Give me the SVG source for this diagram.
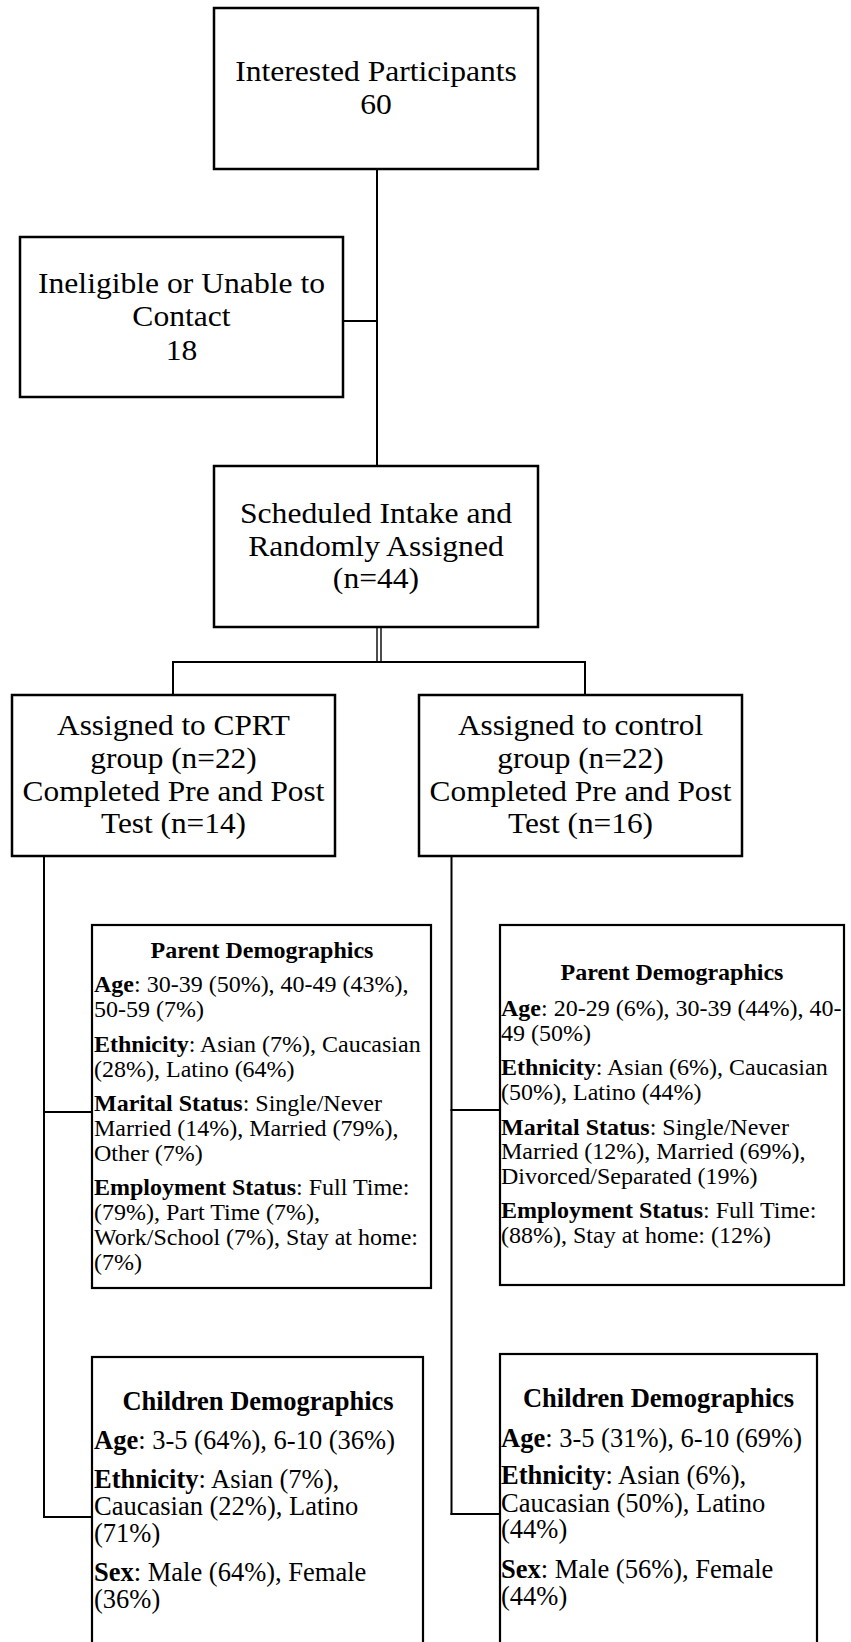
<svg xmlns="http://www.w3.org/2000/svg" width="851" height="1642" viewBox="0 0 851 1642">
<style>
  .box { fill: #fff; stroke: #000; stroke-width: 2.5; }
  .dbox { fill: #fff; stroke: #000; stroke-width: 2.2; }
  .conn { fill: none; stroke: #000; stroke-width: 2; }
  .thin { fill: none; stroke: #000; stroke-width: 1.4; }
  .big { font-family: "Liberation Serif", "Times New Roman", serif; font-size: 29px; text-anchor: middle; fill: #000; }
  .dem { font-family: "Liberation Serif", "Times New Roman", serif; font-size: 24px; fill: #000; }
  .chd { font-family: "Liberation Serif", "Times New Roman", serif; font-size: 26.5px; fill: #000; }
  .hd { font-weight: bold; text-anchor: middle; }
  .b { font-weight: bold; }
</style>
<rect width="851" height="1642" fill="#fff"/>
<g id="connectors">
  <line class="conn" x1="377" y1="169" x2="377" y2="466"/>
  <line class="conn" x1="343" y1="321" x2="377" y2="321"/>
  <line class="thin" x1="377" y1="627" x2="377" y2="662"/>
  <line class="thin" x1="381" y1="627" x2="381" y2="662"/>
  <polyline class="conn" points="173,695 173,662 585,662 585,695"/>
  <line class="conn" x1="44" y1="856" x2="44" y2="1518"/>
  <line class="conn" x1="43" y1="1112" x2="92" y2="1112"/>
  <line class="conn" x1="43" y1="1517" x2="92" y2="1517"/>
  <line class="conn" x1="451.5" y1="856" x2="451.5" y2="1515"/>
  <line class="conn" x1="450.5" y1="1110" x2="500" y2="1110"/>
  <line class="conn" x1="450.5" y1="1514" x2="500" y2="1514"/>
</g>
<g id="interested">
  <rect class="box" x="214" y="8" width="324" height="161"/>
  <g transform="translate(376 0) scale(1.09 1)">
    <text class="big" x="0" y="81.5">Interested Participants</text>
    <text class="big" x="0" y="114">60</text>
  </g>
</g>
<g id="ineligible">
  <rect class="box" x="20" y="237" width="323" height="160"/>
  <g transform="translate(181.5 0) scale(1.09 1)">
    <text class="big" x="0" y="293.3">Ineligible or Unable to</text>
    <text class="big" x="0" y="326.5">Contact</text>
    <text class="big" x="0" y="360">18</text>
  </g>
</g>
<g id="scheduled">
  <rect class="box" x="214" y="466" width="324" height="161"/>
  <g transform="translate(376 0) scale(1.09 1)">
    <text class="big" x="0" y="523">Scheduled Intake and</text>
    <text class="big" x="0" y="555.7">Randomly Assigned</text>
    <text class="big" x="0" y="588.3">(n=44)</text>
  </g>
</g>
<g id="cprt">
  <rect class="box" x="12" y="695" width="323" height="161"/>
  <g transform="translate(173.5 0) scale(1.08 1)">
    <text class="big" x="0" y="735.5">Assigned to CPRT</text>
    <text class="big" x="0" y="768">group (n=22)</text>
    <text class="big" x="0" y="801">Completed Pre and Post</text>
    <text class="big" x="0" y="833.3">Test (n=14)</text>
  </g>
</g>
<g id="control">
  <rect class="box" x="419" y="695" width="323" height="161"/>
  <g transform="translate(580.5 0) scale(1.08 1)">
    <text class="big" x="0" y="735.5">Assigned to control</text>
    <text class="big" x="0" y="768">group (n=22)</text>
    <text class="big" x="0" y="801">Completed Pre and Post</text>
    <text class="big" x="0" y="833.3">Test (n=16)</text>
  </g>
</g>
<g id="cprt-parent">
  <rect class="dbox" x="92" y="925" width="339" height="363"/>
  <text class="dem hd" x="262" y="958">Parent Demographics</text>
  <text class="dem" x="94" y="991.5"><tspan class="b">Age</tspan>: 30-39 (50%), 40-49 (43%),</text>
  <text class="dem" x="94" y="1016.5">50-59 (7%)</text>
  <text class="dem" x="94" y="1051.5"><tspan class="b">Ethnicity</tspan>: Asian (7%), Caucasian</text>
  <text class="dem" x="94" y="1076.5">(28%), Latino (64%)</text>
  <text class="dem" x="94" y="1110.5"><tspan class="b">Marital Status</tspan>: Single/Never</text>
  <text class="dem" x="94" y="1135.5">Married (14%), Married (79%),</text>
  <text class="dem" x="94" y="1160.5">Other (7%)</text>
  <text class="dem" x="94" y="1195"><tspan class="b">Employment Status</tspan>: Full Time:</text>
  <text class="dem" x="94" y="1220">(79%), Part Time (7%),</text>
  <text class="dem" x="94" y="1245">Work/School (7%), Stay at home:</text>
  <text class="dem" x="94" y="1270">(7%)</text>
</g>
<g id="control-parent">
  <rect class="dbox" x="500" y="925" width="344" height="360"/>
  <text class="dem hd" x="672" y="980">Parent Demographics</text>
  <text class="dem" x="501" y="1015.5"><tspan class="b">Age</tspan>: 20-29 (6%), 30-39 (44%), 40-</text>
  <text class="dem" x="501" y="1040.5">49 (50%)</text>
  <text class="dem" x="501" y="1074.5"><tspan class="b">Ethnicity</tspan>: Asian (6%), Caucasian</text>
  <text class="dem" x="501" y="1099.5">(50%), Latino (44%)</text>
  <text class="dem" x="501" y="1134.5"><tspan class="b">Marital Status</tspan>: Single/Never</text>
  <text class="dem" x="501" y="1159">Married (12%), Married (69%),</text>
  <text class="dem" x="501" y="1183.5">Divorced/Separated (19%)</text>
  <text class="dem" x="501" y="1218.3"><tspan class="b">Employment Status</tspan>: Full Time:</text>
  <text class="dem" x="501" y="1243.3">(88%), Stay at home: (12%)</text>
</g>
<g id="cprt-children">
  <rect class="dbox" x="92" y="1357" width="331" height="300"/>
  <text class="chd hd" x="258" y="1409.5">Children Demographics</text>
  <text class="chd" x="94" y="1449"><tspan class="b">Age</tspan>: 3-5 (64%), 6-10 (36%)</text>
  <text class="chd" x="94" y="1487.5"><tspan class="b">Ethnicity</tspan>: Asian (7%),</text>
  <text class="chd" x="94" y="1514.5">Caucasian (22%), Latino</text>
  <text class="chd" x="94" y="1541.5">(71%)</text>
  <text class="chd" x="94" y="1581"><tspan class="b">Sex</tspan>: Male (64%), Female</text>
  <text class="chd" x="94" y="1608">(36%)</text>
</g>
<g id="control-children">
  <rect class="dbox" x="500" y="1354" width="317" height="300"/>
  <text class="chd hd" x="658.5" y="1407">Children Demographics</text>
  <text class="chd" x="501" y="1446.5"><tspan class="b">Age</tspan>: 3-5 (31%), 6-10 (69%)</text>
  <text class="chd" x="501" y="1484"><tspan class="b">Ethnicity</tspan>: Asian (6%),</text>
  <text class="chd" x="501" y="1511.5">Caucasian (50%), Latino</text>
  <text class="chd" x="501" y="1538.3">(44%)</text>
  <text class="chd" x="501" y="1578.3"><tspan class="b">Sex</tspan>: Male (56%), Female</text>
  <text class="chd" x="501" y="1605">(44%)</text>
</g>
</svg>
